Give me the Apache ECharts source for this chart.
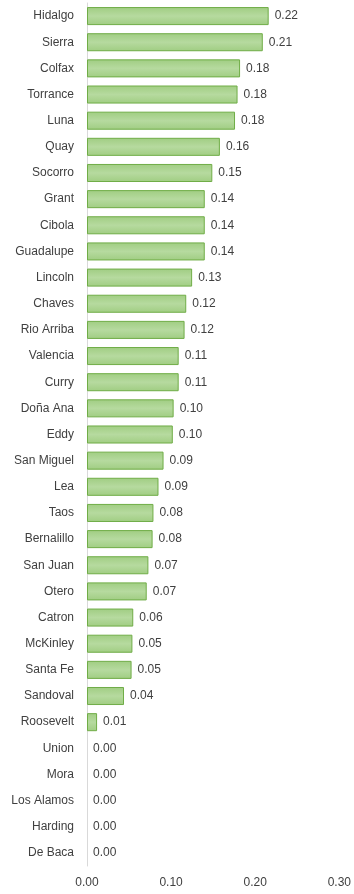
<!DOCTYPE html>
<html>
<head>
<meta charset="utf-8">
<script src="https://cdn.jsdelivr.net/npm/echarts@6/dist/echarts.min.js"></script>
<style>
html,body{margin:0;padding:0;background:#fff;}
#chart{width:354px;height:894px;}
</style>
</head>
<body>
<div id="chart"></div>
<script>
const categories = ["Hidalgo","Sierra","Colfax","Torrance","Luna","Quay","Socorro","Grant","Cibola","Guadalupe","Lincoln","Chaves","Rio Arriba","Valencia","Curry","Doña Ana","Eddy","San Miguel","Lea","Taos","Bernalillo","San Juan","Otero","Catron","McKinley","Santa Fe","Sandoval","Roosevelt","Union","Mora","Los Alamos","Harding","De Baca"];
const values = [0.216,0.209,0.182,0.179,0.176,0.158,0.149,0.140,0.140,0.140,0.125,0.118,0.116,0.109,0.109,0.103,0.102,0.091,0.085,0.079,0.078,0.073,0.071,0.055,0.054,0.053,0.044,0.012,0,0,0,0,0];
const xTicks = [0, 0.1, 0.2, 0.3];

const chart = echarts.init(document.getElementById('chart'));
const font = 'Liberation Sans';
const seriesData = values.map(v => v === 0 ? {value: v, itemStyle: {borderWidth: 0}} : v);
chart.setOption({
  animation: false,
  grid: {left: 87, right: 13.5, top: 3, bottom: 28, containLabel: false},
  xAxis: {
    type: 'value', min: xTicks[0], max: xTicks[xTicks.length-1], interval: 0.1,
    axisLine: {show: false}, axisTick: {show: false}, splitLine: {show: false},
    axisLabel: {formatter: v => v.toFixed(2), color: '#404040', fontFamily: font, fontSize: 12, margin: 11}
  },
  yAxis: {
    type: 'category', data: categories, inverse: true,
    axisLine: {show: true, lineStyle: {color: '#d9d9d9', width: 1}},
    axisTick: {show: false},
    axisLabel: {color: '#404040', fontFamily: font, fontSize: 12, margin: 13}
  },
  series: [{
    type: 'bar', data: seriesData, barCategoryGap: '31%',
    itemStyle: {
      color: new echarts.graphic.LinearGradient(0,0,0,1,[
        {offset:0,color:'#a0cd82'},{offset:0.5,color:'#b6da9f'},{offset:1,color:'#a0cd82'}]),
      borderColor: '#70ad47', borderWidth: 1
    },
    label: {show: true, position: 'right', distance: 6, formatter: p => p.value.toFixed(2),
      color: '#404040', fontFamily: font, fontSize: 12}
  }]
});
</script>
</body>
</html>
